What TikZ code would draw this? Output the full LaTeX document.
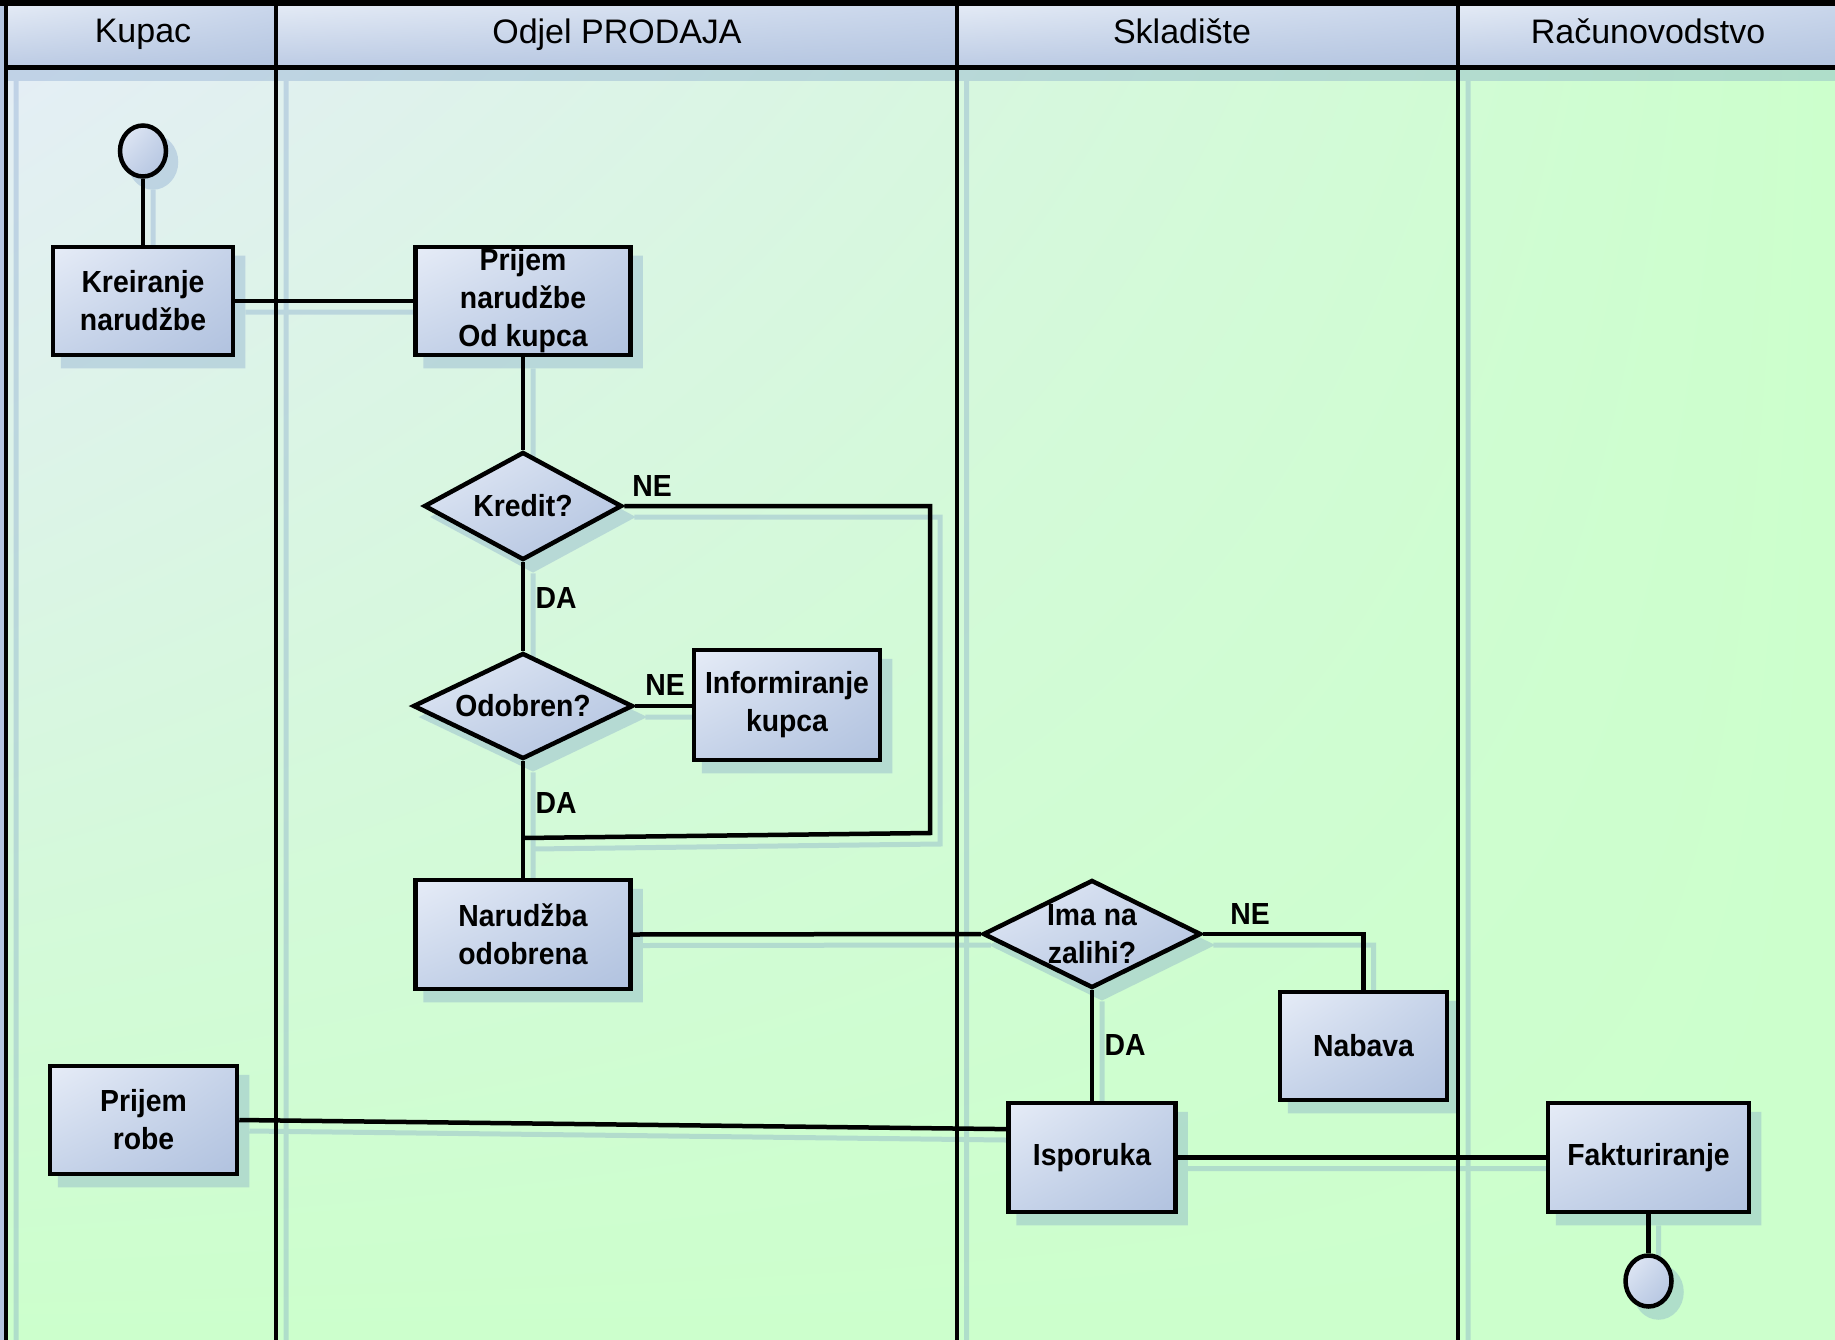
\documentclass[tikz,border=0pt]{standalone}
\usepackage{fontspec}
\setmainfont{Liberation Sans}
\newfontfamily\boxfont[FakeStretch=0.93]{Liberation Sans}
\usetikzlibrary{shapes.geometric,calc,shadings}

\definecolor{bgblue}{HTML}{E6EDF8}
\definecolor{bggreen}{HTML}{CCFFCC}
\definecolor{hdA}{HTML}{E3EAF5}
\definecolor{hdB}{HTML}{C9D6EB}
\definecolor{hdC}{HTML}{BCCBE4}
\definecolor{hdD}{HTML}{B4C5E0}
\definecolor{ndA}{HTML}{E6ECF7}
\definecolor{ndB}{HTML}{C6D3E9}
\definecolor{ndC}{HTML}{B1C2DF}
\definecolor{shc}{HTML}{6F93C6}

\newcommand\nodefont{\boxfont\bfseries\fontsize{30.5}{38}\selectfont}
% text of a flow shape (blanked for the shadow copies)
\newcommand\flowtext[1]{#1}

\tikzset{
  look/.style={draw=black, upper left=ndA, upper right=ndB, lower left=ndB, lower right=ndC},
  box/.style={rectangle, line width=4.5pt, inner sep=0pt, align=center, font=\nodefont, look},
  dec/.style={diamond, line width=4.5pt, inner sep=0pt, look},
  ev/.style={ellipse, line width=4.5pt, inner sep=0pt, look},
  dtext/.style={font=\nodefont, align=center, inner sep=0pt},
  lbl/.style={font=\nodefont, inner sep=0pt},
  link/.style={line width=4.5pt, draw=black},
  lane/.style={line width=4pt, draw=black},
  hdr/.style={upper left=hdA, upper right=hdB, lower left=hdC, lower right=hdD},
  htext/.style={font=\fontsize{34}{38}\selectfont, anchor=base, inner sep=0pt},
}

% all flow shapes of the process
\newcommand\flowshapes{%
  \node[ev, minimum width=46, minimum height=51] (start) at (143,151) {};
  \node[box, minimum width=180, minimum height=108] (kre) at (143,301) {\flowtext{Kreiranje\\narudžbe}};
  \node[box, minimum width=215, minimum height=108] (pri) at (523,301) {\flowtext{Prijem\\narudžbe\\Od kupca}};
  \node[dec, minimum width=198, minimum height=108, label={[dtext]center:\flowtext{Kredit?}}] (kredit) at (523,506) {};
  \node[dec, minimum width=220, minimum height=106, label={[dtext]center:\flowtext{Odobren?}}] (odob) at (523,706) {};
  \node[box, minimum width=186, minimum height=110] (inf) at (787,705) {\flowtext{Informiranje\\kupca}};
  \node[box, minimum width=215, minimum height=109] (nar) at (523,934.5) {\flowtext{Narudžba\\odobrena}};
  \node[dec, minimum width=218, minimum height=108, label={[dtext]center:\flowtext{Ima na\\zalihi?}}] (ima) at (1092,934) {};
  \node[box, minimum width=167, minimum height=108] (nab) at (1363.5,1046) {\flowtext{Nabava}};
  \node[box, minimum width=187, minimum height=108] (prr) at (143.5,1120) {\flowtext{Prijem\\robe}};
  \node[box, minimum width=167, minimum height=109] (isp) at (1092,1157.5) {\flowtext{Isporuka}};
  \node[box, minimum width=201, minimum height=109] (fak) at (1648.5,1157.5) {\flowtext{Fakturiranje}};
  \node[ev, minimum width=46, minimum height=51] (stop) at (1648.5,1281) {};
  \coordinate (kc) at (930,833);
  \coordinate (join) at (523,838);
}

% all connectors between the flow shapes
\newcommand\flowlinks{%
  \draw[link] (start) -- (kre);
  \draw[link] (kre) -- (pri);
  \draw[link] (pri) -- (kredit);
  \draw[link] (kredit.east) -| (kc) -- (join);
  \draw[link] (kredit) -- (odob);
  \draw[link] (odob.east) -- (odob.east -| inf.west);
  \draw[link] (odob) -- (nar);
  \draw[link] (nar.east) -- (ima.west);
  \draw[link] (ima.east) -| (nab.north);
  \draw[link] (ima) -- (isp);
  \draw[link] (prr.east) -- ($(isp.north west)!0.25!(isp.south west)$);
  \draw[link] (isp) -- (fak);
  \draw[link] (fak) -- (stop);
}

\begin{document}
\begin{tikzpicture}[x=1pt,y=-1pt]
\useasboundingbox (0,0) rectangle (1835,1340);

% pool background
\shade[upper left=bgblue, upper right=bggreen, lower left=bggreen, lower right=bggreen]
  (0,0) rectangle (1835,1340);
\fill[hdD] (0,0) rectangle (5,1340);

% lane headers
\shade[hdr] (6,6) rectangle (276,68);
\shade[hdr] (276,6) rectangle (956.5,68);
\shade[hdr] (956.5,6) rectangle (1458,68);
\shade[hdr] (1458,6) rectangle (1835,68);

% soft shadows
\begin{scope}[transparency group, opacity=0.3]
  \fill[shc] (8,70) rectangle (1835,81);
  \draw[shc, line width=5pt] (16,70) -- (16,1340);
  \draw[shc, line width=5pt] (286,70) -- (286,1340);
  \draw[shc, line width=5pt] (966.5,70) -- (966.5,1340);
  \draw[shc, line width=5pt] (1468,70) -- (1468,1340);
  \begin{scope}[shift={(10,11)}, name prefix=s-,
      look/.style={draw=shc, fill=shc},
      link/.style={line width=5pt, draw=shc}]
    \renewcommand\flowtext[1]{}
    \flowshapes
    \flowlinks
  \end{scope}
\end{scope}

% pool and lane borders
\fill[black] (0,0) rectangle (1835,6);
\draw[line width=5pt] (4,68) -- (1835,68);
\draw[lane] (6,0) -- (6,1340);
\draw[lane] (276,0) -- (276,1340);
\draw[lane] (956.5,0) -- (956.5,1340);
\draw[lane] (1458,0) -- (1458,1340);

% header titles
\node[htext] (h1) at (143,43) {Kupac};
\node[htext] (h2) at (617,44) {Odjel PRODAJA};
\node[htext] (h3) at (1182,44) {Skladište};
\node[htext] (h4) at (1648,44) {Računovodstvo};

% process
\flowshapes
\flowlinks

% branch labels
\node[lbl] (ne1) at (652,486) {NE};
\node[lbl] (da1) at (556,598) {DA};
\node[lbl] (ne2) at (665,685) {NE};
\node[lbl] (da2) at (556,803) {DA};
\node[lbl] (ne3) at (1250,914) {NE};
\node[lbl] (da3) at (1125,1045) {DA};
\end{tikzpicture}
\end{document}
